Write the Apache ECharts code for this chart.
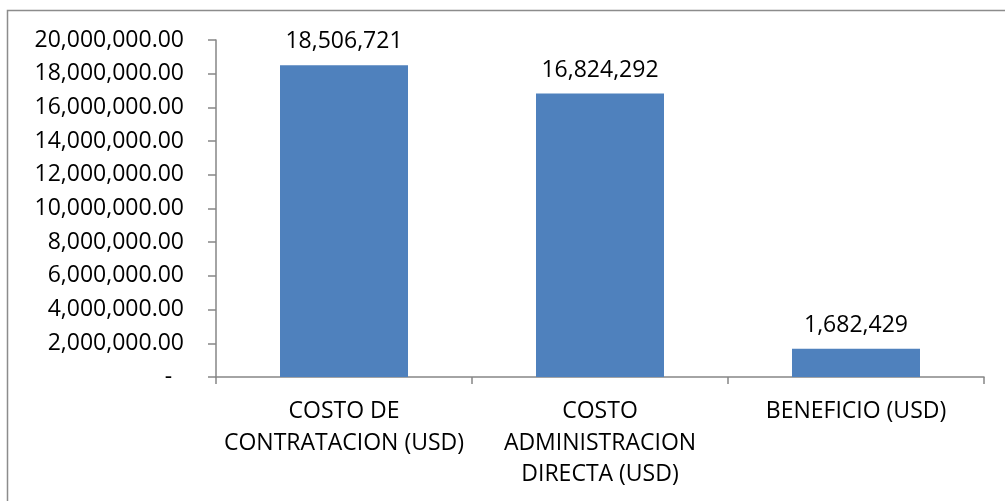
<!DOCTYPE html>
<html>
<head>
<meta charset="utf-8">
<script src="https://cdn.jsdelivr.net/npm/echarts@6/dist/echarts.min.js"></script>
<style>
  html, body { margin: 0; padding: 0; background: #fff; }
  #chart { width: 1005px; height: 501px; }
</style>
</head>
<body>
<div id="chart"></div>
<script>
// categories and values
const categories = [
  'COSTO DE\nCONTRATACION (USD)',
  'COSTO\nADMINISTRACION\nDIRECTA (USD)',
  'BENEFICIO (USD)'
]
const values = [18506721, 16824292, 1682429]
const yMax = 20000000
const yStep = 2000000

const fontFamily = '"Open Sans", sans-serif'
const axisGray = '#868686'

const chart = echarts.init(document.getElementById('chart'))
chart.setOption({
  animation: false,
  textStyle: { fontFamily: fontFamily },
  graphic: [
    {
      // outer chart border (right and bottom fall outside the picture)
      type: 'rect',
      shape: { x: 7.5, y: 10.5, width: 1010, height: 510 },
      style: { fill: 'none', stroke: '#8c8c8c', lineWidth: 1.5 },
      silent: true
    }
  ],
  grid: {
    left: 216,
    right: 21,
    top: 40,
    bottom: 124,
    containLabel: false
  },
  xAxis: {
    type: 'category',
    data: categories,
    axisLine: { lineStyle: { color: axisGray, width: 1.5 } },
    axisTick: { show: true, length: 7, lineStyle: { color: axisGray, width: 1.5 } },
    axisLabel: {
      color: '#000',
      fontSize: 23,
      lineHeight: 31.5,
      margin: 19,
      interval: 0
    },
    splitLine: { show: false }
  },
  yAxis: {
    type: 'value',
    min: 0,
    max: yMax,
    interval: yStep,
    axisLine: { show: true, lineStyle: { color: axisGray, width: 1.5 } },
    axisTick: { show: true, length: 8, lineStyle: { color: axisGray, width: 1.5 } },
    splitLine: { show: false },
    axisLabel: {
      color: '#000',
      fontSize: 23,
      margin: 32,
      formatter: function (v) {
        if (v === 0) return '-  '
        return v.toLocaleString('en-US', { minimumFractionDigits: 2, maximumFractionDigits: 2 })
      }
    }
  },
  series: [
    {
      type: 'bar',
      data: values,
      barWidth: '50%',
      itemStyle: { color: '#4f81bd' },
      label: {
        show: true,
        position: 'top',
        distance: 12,
        color: '#000',
        fontSize: 23,
        formatter: function (p) {
          return p.value.toLocaleString('en-US')
        }
      }
    }
  ]
})
</script>
</body>
</html>
